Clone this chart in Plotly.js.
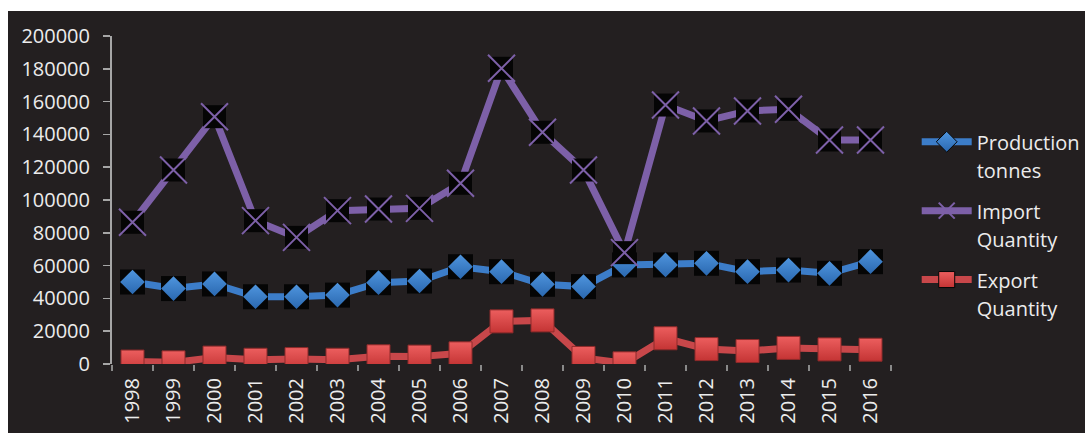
<!DOCTYPE html>
<html>
<head>
<meta charset="utf-8">
<script src="https://cdn.plot.ly/plotly-3.0.1.min.js"></script>
<style>
  html, body { margin: 0; padding: 0; background: #ffffff; }
  #chart { width: 1085px; height: 433px; }
</style>
</head>
<body>
<div id="chart"></div>
<script>
// Years on the category axis
const years = ['1998','1999','2000','2001','2002','2003','2004','2005','2006','2007',
               '2008','2009','2010','2011','2012','2013','2014','2015','2016'];

// Production (tonnes)
const production = [50000, 46000, 48800, 41000, 41000, 42000, 49600, 50600, 59300, 56300,
                    48600, 47200, 60400, 60400, 61400, 56300, 57300, 55300, 62400];

// Import quantity
const importQty = [86400, 118300, 150800, 87400, 77200, 93500, 94500, 94900, 110200, 180300,
                   141300, 118300, 67900, 157900, 148200, 154300, 155300, 136600, 136600];

// Export quantity
const exportQty = [1500, 1000, 3900, 2600, 3000, 2600, 4700, 4500, 6500, 26000,
                   26600, 3700, 400, 15700, 9100, 7900, 9800, 8900, 8700];

const seriesNames = ['Production<br>tonnes', 'Import<br>Quantity', 'Export<br>Quantity'];

const BLUE = '#3c7dc9', PURPLE = '#7d60a8', RED = '#c8474a';
const DIAMOND_TOP = '#4f95de', DIAMOND_BOTTOM = '#2a68b0';
const SQUARE_TOP = '#ec5e5e', SQUARE_BOTTOM = '#c43434';

function label(t) { return '<span style="font-size:20px">' + t + '</span>'; }

const traces = [];

// Production: line, black backing squares, bevelled diamonds
traces.push({x: years, y: production, type: 'scatter', mode: 'lines+markers', showlegend: false,
  line: {color: BLUE, width: 7}, marker: {symbol: 'square', size: 25, color: '#050505'}, hoverinfo: 'skip'});
traces.push({x: years, y: production, type: 'scatter', mode: 'markers', showlegend: false,
  marker: {symbol: 'diamond', size: 19, color: DIAMOND_TOP, gradient: {type: 'vertical', color: DIAMOND_BOTTOM},
           line: {width: 0}}});
traces.push({x: [null], y: [null], type: 'scatter', mode: 'lines+markers', name: label(seriesNames[0]),
  legendgroup: 'p', line: {color: BLUE, width: 7},
  marker: {symbol: 'diamond', size: 16, color: DIAMOND_TOP, gradient: {type: 'vertical', color: DIAMOND_BOTTOM},
           line: {color: '#050505', width: 1}}});

// Import: line, black backing squares, thin crosses
traces.push({x: years, y: importQty, type: 'scatter', mode: 'lines+markers', showlegend: false,
  line: {color: PURPLE, width: 7}, marker: {symbol: 'square', size: 23, color: '#050505'}, hoverinfo: 'skip'});
traces.push({x: years, y: importQty, type: 'scatter', mode: 'markers', showlegend: false,
  marker: {symbol: 'x-thin-open', size: 27, color: PURPLE, line: {color: PURPLE, width: 2}}});
traces.push({x: [null], y: [null], type: 'scatter', mode: 'lines+markers', name: label(seriesNames[1]),
  legendgroup: 'i', line: {color: PURPLE, width: 7},
  marker: {symbol: 'x-thin-open', size: 16, color: PURPLE, line: {color: PURPLE, width: 2}}});

// Export: line with bevelled squares
traces.push({x: years, y: exportQty, type: 'scatter', mode: 'lines+markers', showlegend: false,
  line: {color: RED, width: 7},
  marker: {symbol: 'square', size: 23, color: SQUARE_TOP, gradient: {type: 'vertical', color: SQUARE_BOTTOM},
           line: {color: '#8e2a2a', width: 1}}});
traces.push({x: [null], y: [null], type: 'scatter', mode: 'lines+markers', name: label(seriesNames[2]),
  legendgroup: 'e', line: {color: RED, width: 7},
  marker: {symbol: 'square', size: 16, color: SQUARE_TOP, gradient: {type: 'vertical', color: SQUARE_BOTTOM},
           line: {color: '#050505', width: 1}}});

const layout = {
  width: 1085, height: 433,
  margin: {l: 112, r: 194, t: 36, b: 69, pad: 0, autoexpand: false},
  paper_bgcolor: '#231f20',
  plot_bgcolor: 'rgba(0,0,0,0)',
  font: {family: '"Open Sans", sans-serif', color: '#ececec', size: 20},
  xaxis: {
    type: 'category', range: [-0.5, years.length - 0.5],
    tickson: 'boundaries', ticks: 'outside', ticklen: 6, tickwidth: 1.5,
    tickcolor: '#8a8a8a', showline: false, showgrid: false, zeroline: false,
    tickangle: -90, tickfont: {size: 20, color: '#ececec'}, ticklabelstandoff: 9
  },
  yaxis: {
    range: [0, 200000], tickvals: [0,20000,40000,60000,80000,100000,120000,140000,160000,180000,200000],
    ticktext: ['0','20000','40000','60000','80000','100000','120000','140000','160000','180000','200000'],
    ticks: 'outside', ticklen: 7, tickwidth: 1.5, tickcolor: '#a6a6a6',
    showline: true, linecolor: '#a6a6a6', linewidth: 2, showgrid: false, zeroline: false,
    tickfont: {size: 20, color: '#ececec'}, ticklabelstandoff: 9
  },
  legend: {
    x: 1.033, xanchor: 'left', y: 0.74, yanchor: 'top',
    bgcolor: 'rgba(0,0,0,0)', font: {size: 21.5, color: '#ececec'},
    traceorder: 'grouped', tracegroupgap: 10, itemwidth: 50, valign: 'top'
  },
  shapes: [
    {type: 'rect', xref: 'paper', yref: 'paper', x0: -0.2, x1: 1.3, y0: 1.0762, y1: 1.2,
     fillcolor: '#ffffff', line: {width: 0}, layer: 'above'},
    {type: 'rect', xref: 'paper', yref: 'paper', x0: -0.2, x1: -0.1335, y0: -0.3, y1: 1.2,
     fillcolor: '#ffffff', line: {width: 0}, layer: 'above'}
  ],
  showlegend: true
};

Plotly.newPlot('chart', traces, layout, {displayModeBar: false, staticPlot: true});
</script>
</body>
</html>
